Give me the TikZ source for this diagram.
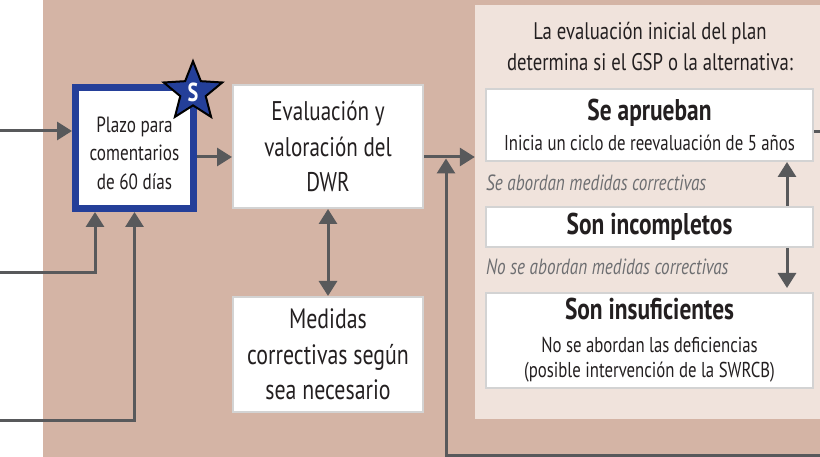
\documentclass[tikz,border=0pt]{standalone}
\usepackage{fontspec}
\setmainfont{PT Sans}[FakeStretch=0.78]
\usetikzlibrary{arrows.meta,positioning,shapes.geometric,calc}
\definecolor{gsptan}{HTML}{D4B4A5}
\definecolor{gsppanel}{HTML}{F0E3DC}
\definecolor{gspblue}{HTML}{243F99}
\definecolor{gspink}{HTML}{231F20}
\definecolor{gspline}{HTML}{58595B}
\definecolor{gspedge}{HTML}{D3D3D3}
\definecolor{gspnote}{HTML}{6D6E71}
\tikzset{
  wbox/.style={draw=gspedge, line width=2pt, fill=white, align=center, inner sep=0pt, text=gspink},
  bluebox/.style={draw=gspblue, line width=7pt, fill=white, inner sep=0pt},
  note/.style={anchor=west, inner sep=0pt, text=gspnote, font=\fontsize{22}{26}\selectfont\itshape},
  tip/.tip={Triangle[length=15pt, width=18pt]},
  arr/.style={-tip, line width=3pt, color=gspline},
  dblarr/.style={tip-tip, line width=3pt, color=gspline},
  ln/.style={line width=3pt, color=gspline},
}
\newcommand{\ttl}[1]{{\fontsize{30}{32}\selectfont\bfseries #1}}
\begin{document}
\begin{tikzpicture}[x=1pt, y=-1pt, font=\fontsize{21.5}{25}\selectfont]
  \useasboundingbox (0,0) rectangle (820,457);
  % backgrounds
  \fill[gsptan] (43,0) rectangle (820,457);
  \node[fill=gsppanel, minimum width=345pt, minimum height=414pt, inner sep=0pt] (panel) at (647.5,212) {};
  % left column
  \node[bluebox, minimum width=118pt, minimum height=121pt] (plazo) at (134.5,148) {};
  \node[align=center, text=gspink, font=\fontsize{22}{28.5}\selectfont] (plazotxt) at ([yshift=-5pt]plazo.center)
    {Plazo para\\comentarios\\de 60 días};
  \node[star, star points=5, star point ratio=2.3, minimum size=58pt, inner sep=0pt, fill=gspblue, draw=black, line width=2pt,
    text=white, font=\fontsize{26}{26}\selectfont\bfseries] (sbadge) at (193,92) {S};
  \node[wbox, minimum width=190pt, minimum height=123pt, font=\fontsize{27}{35.5}\selectfont] (eval) at (328,146.5)
    {Evaluación y\\valoración del\\DWR};
  \node[wbox, minimum width=190pt, minimum height=115pt, font=\fontsize{28}{35.5}\selectfont] (medidas) at (328,354.5)
    {Medidas\\correctivas según\\sea necesario};
  % right panel
  \node[align=center, text=gspink, font=\fontsize{24}{31}\selectfont] (head) at (650,47)
    {La evaluación inicial del plan\\determina si el GSP o la alternativa:};
  \node[wbox, minimum width=327pt, minimum height=72pt] (aprueban) at (649.5,125)
    {\ttl{Se aprueban}\\[5pt]Inicia un ciclo de reevaluación de 5 años};
  \node[note] (noteyes) at (486,183) {Se abordan medidas correctivas};
  \node[wbox, minimum width=327pt, minimum height=40pt] (incompl) at (649.5,227) {\ttl{Son incompletos}};
  \node[note] (noteno) at (486,267) {No se abordan medidas correctivas};
  \node[wbox, minimum width=327pt, minimum height=95pt, font=\fontsize{21.5}{25}\selectfont] (insuf) at (649.5,340.5)
    {\ttl{Son insuficientes}\\[8pt]No se abordan las deficiencias\\(posible intervención de la SWRCB)};
  % loose ends
  \coordinate (in1) at (0,131);
  \coordinate (in2) at (0,273);
  \coordinate (in3) at (0,420);
  \coordinate (loopin) at (820,455);
  \coordinate (merge) at (446,158.5);
  \coordinate (out) at (820,132);
  % connectors
  \draw[arr] (in1) -- (in1 -| plazo.west);
  \draw[arr] (in2) -| ([xshift=-39.5pt]plazo.south);
  \draw[arr] (in3) -| (plazo.south);
  \draw[arr] ([yshift=-9pt]plazo.east) -- ([yshift=-9pt]plazo.east -| eval.west);
  \draw[dblarr] (eval) -- (medidas);
  \draw[arr] ([yshift=-10.5pt]eval.east) -- ([yshift=-10.5pt]eval.east -| panel.west);
  \draw[arr] (loopin) -| (merge);
  \draw[arr] ([xshift=137.5pt]incompl.north) -- ([xshift=137.5pt]aprueban.south);
  \draw[arr] ([xshift=137.5pt]incompl.south) -- ([xshift=137.5pt,yshift=4pt]insuf.north);
  \draw[ln] (aprueban.east |- out) -- (out);
\end{tikzpicture}
\end{document}
